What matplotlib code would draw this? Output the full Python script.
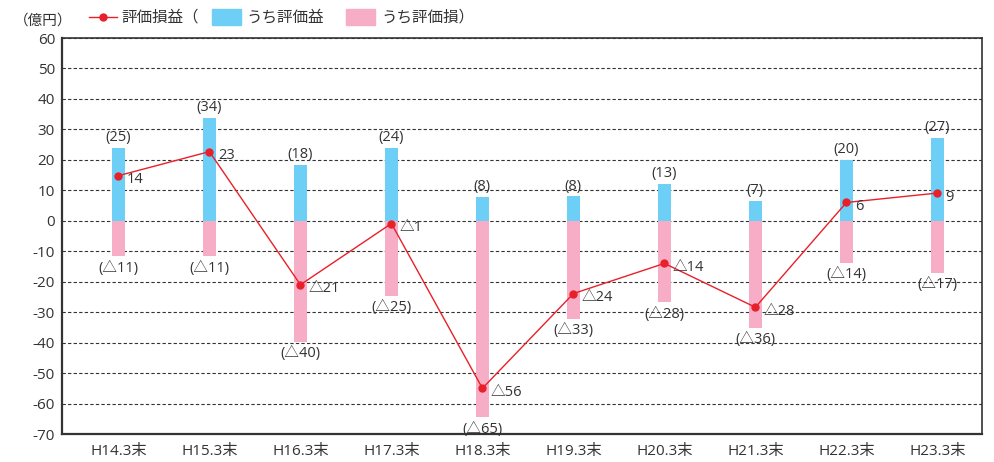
import matplotlib
matplotlib.use("Agg")
import matplotlib.pyplot as plt
from matplotlib.patches import Rectangle
from matplotlib.lines import Line2D

plt.rcParams['font.family'] = ['Open Sans', 'Noto Sans CJK JP', 'DejaVu Sans']
plt.rcParams['axes.unicode_minus'] = False

categories = ["H14.3末", "H15.3末", "H16.3末", "H17.3末", "H18.3末",
              "H19.3末", "H20.3末", "H21.3末", "H22.3末", "H23.3末"]
gains = [23.8, 33.7, 18.4, 24.0, 7.9, 8.0, 12.0, 6.6, 20.0, 27.1]
losses = [-11.7, -11.7, -39.8, -24.7, -64.5, -32.1, -26.8, -35.2, -13.9, -17.2]
net = [14.8, 22.7, -21.0, -0.9, -55.0, -23.9, -14.0, -28.4, 6.0, 9.1]
gain_labels = ["(25)", "(34)", "(18)", "(24)", "(8)", "(8)", "(13)", "(7)", "(20)", "(27)"]
loss_labels = ["(△11)", "(△11)", "(△40)", "(△25)", "(△65)", "(△33)", "(△28)", "(△36)", "(△14)", "(△17)"]
net_labels = ["14", "23", "△21", "△1", "△56", "△24", "△14", "△28", "6", "9"]

BLUE = "#6DCFF6"
PINK = "#F7ADC5"
RED = "#E8202A"
TXT = "#333333"
CJK = ['Noto Sans CJK JP', 'DejaVu Sans']

fig = plt.figure(figsize=(9.95, 4.62), dpi=100)
ax = fig.add_axes([62/995, 1-434/462, (982-62)/995, (434-38)/462])

x = list(range(len(categories)))
w = 0.143
ax.bar(x, gains, width=w, color=BLUE, zorder=2)
ax.bar(x, losses, width=w, color=PINK, zorder=2)
ax.plot(x, net, color=RED, lw=1.0, marker='o', ms=5, zorder=3)

for i in x:
    ax.annotate(gain_labels[i], (i, gains[i]), xytext=(0, 2), textcoords='offset points',
                ha='center', va='bottom', fontsize=10.5, color=TXT)
    ax.annotate(loss_labels[i], (i, losses[i]), xytext=(0, -3), textcoords='offset points',
                ha='center', va='top', fontsize=10.5, color=TXT)
    ax.annotate(net_labels[i], (i, net[i]), xytext=(6, -3), textcoords='offset points',
                ha='left', va='center', fontsize=10.5, color=TXT)

ax.set_xlim(-0.62, 9.49)
ax.set_ylim(-70, 60)
ax.set_yticks(range(-70, 61, 10))
ax.set_xticks(x)
ax.set_xticklabels(categories, fontsize=11, color=TXT)
ax.tick_params(axis='both', length=0, labelsize=11, colors=TXT)
ax.tick_params(axis='y', pad=5)
ax.tick_params(axis='x', pad=7)
ax.grid(axis='y', linestyle=(0, (3, 2)), color='#333333', lw=0.8, zorder=1)
ax.set_axisbelow(True)
for s in ['left', 'bottom']:
    ax.spines[s].set_linewidth(1.6)
    ax.spines[s].set_color('#333333')
for s in ['top', 'right']:
    ax.spines[s].set_linewidth(1.2)
    ax.spines[s].set_color('#333333')

# unit label
fig.text(14/995, 1-21/462, "（億円）", fontsize=10.5, color=TXT, ha='left', va='center', family=CJK)

# legend
ly = 1 - 17/462
fig.add_artist(Line2D([89/995, 117/995], [ly, ly], color=RED, lw=1.0))
fig.add_artist(Line2D([103/995], [ly], color=RED, marker='o', ms=5, lw=0))
fig.text(121/995, ly, "評価損益（", fontsize=11.2, color=TXT, ha='left', va='center', family=CJK)
fig.add_artist(Rectangle((212/995, 1-25/462), 29/995, 16/462, color=BLUE, transform=fig.transFigure))
fig.text(246/995, ly, "うち評価益", fontsize=11.2, color=TXT, ha='left', va='center', family=CJK)
fig.add_artist(Rectangle((346/995, 1-25/462), 29/995, 16/462, color=PINK, transform=fig.transFigure))
fig.text(381/995, ly, "うち評価損）", fontsize=11.2, color=TXT, ha='left', va='center', family=CJK)

fig.savefig("out.png", dpi=100)
